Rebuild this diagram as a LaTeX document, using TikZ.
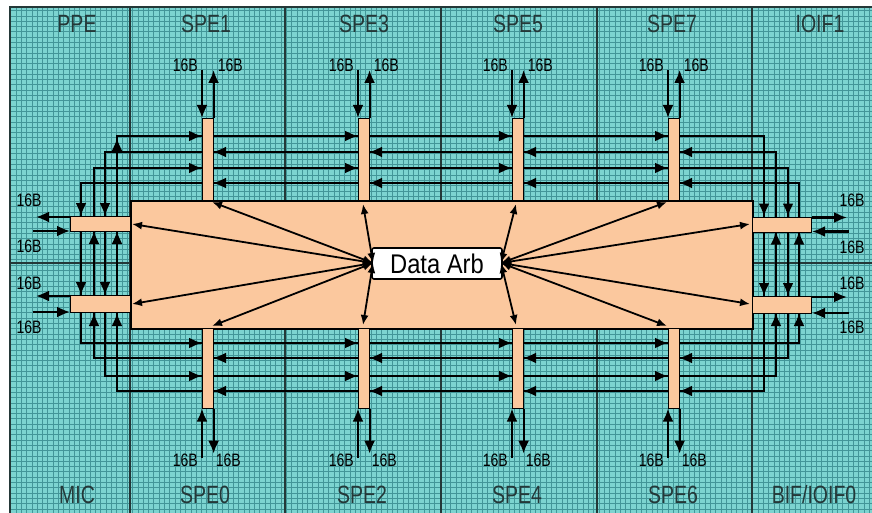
\documentclass[tikz,border=0pt]{standalone}
\usepackage{fontspec}
\usetikzlibrary{arrows.meta}
\newfontfamily\nar[FakeStretch=0.78]{Liberation Sans}
\newfontfamily\narb[FakeStretch=0.88]{Liberation Sans}
\definecolor{bgc}{RGB}{124,212,208}
\definecolor{gridc}{RGB}{66,150,152}
\definecolor{peach}{RGB}{251,200,158}
\definecolor{divc}{RGB}{36,56,56}
\begin{document}
\begin{tikzpicture}[x=1pt,y=-1pt,
  bus/.style={line width=2.2pt, black},
  tip/.style={-{Latex[length=13pt,width=11pt]}, line width=2.2pt},
  rad/.style={{Latex[length=10pt,width=8pt]}-{Latex[length=10pt,width=8pt]}, line width=1.8pt},
  colname/.style={font=\nar\fontsize{25}{25}\selectfont, text=divc, inner sep=0pt, anchor=base},
  bw/.style={font=\nar\fontsize{18}{18}\selectfont, inner sep=0pt},
  bar/.style={fill=peach, draw=black, line width=0.6pt, minimum width=11pt, inner sep=0pt, anchor=north west},
  port/.style={fill=peach, draw=black, line width=1pt, inner sep=0pt, anchor=north west},
  divl/.style={divc, line width=1.2pt},
]
\useasboundingbox (0,0) rectangle (872,513);
% background and grid
\fill[white] (0,0) rectangle (872,513);
\fill[bgc] (10,7) rectangle (872,513);
\draw[gridc, line width=0.6pt, step=5.3pt] (10,7) grid (872,513);
\draw[divl] (10,513) -- (10,7) -- (872,7);
\foreach \x in {130,285,441,597,752} \draw[divl] (\x,7) -- (\x,513);
\draw[divl] (10,263) -- (130,263);
\draw[divl] (752,263) -- (872,263);
% column names
\node[colname] (tPPE) at (77,33) {PPE};
\node[colname] (tS1) at (206,33) {SPE1};
\node[colname] (tS3) at (364,33) {SPE3};
\node[colname] (tS5) at (518,33) {SPE5};
\node[colname] (tS7) at (672,33) {SPE7};
\node[colname] (tIO1) at (820,33) {IOIF1};
\node[colname] (bMIC) at (77,503) {MIC};
\node[colname] (bS0) at (205,503) {SPE0};
\node[colname] (bS2) at (362,503) {SPE2};
\node[colname] (bS4) at (517,503) {SPE4};
\node[colname] (bS6) at (673,503) {SPE6};
\node[colname] (bIO0) at (814,503) {BIF/IOIF0};
% rings
\draw[bus] (117,136) rectangle (764,391);
\draw[bus] (105,152) rectangle (776,376);
\draw[bus] (94,168) rectangle (788,358);
\draw[bus] (81,183) rectangle (799,343);
% main element bus area
\node[fill=peach, draw=black, line width=1.6pt, minimum width=622pt, minimum height=128pt, inner sep=0pt, anchor=north west] (eib) at (130,200) {};
% ports
\node[port, minimum width=60pt, minimum height=15pt] (lu) at (70,216) {};
\node[port, minimum width=60pt, minimum height=17pt] (ll) at (70,295) {};
\node[port, minimum width=59pt, minimum height=15pt] (ru) at (752,216.5) {};
\node[port, minimum width=59pt, minimum height=17pt] (rl) at (752,296) {};
% SPE bars
\node[bar, minimum height=82pt] (s1) at (202,118) {};
\node[bar, minimum height=82pt] (s3) at (358,118) {};
\node[bar, minimum height=82pt] (s5) at (512,118) {};
\node[bar, minimum height=82pt] (s7) at (668,118) {};
\node[bar, minimum height=80pt] (s0) at (202,328) {};
\node[bar, minimum height=80pt] (s2) at (358,328) {};
\node[bar, minimum height=80pt] (s4) at (512,328) {};
\node[bar, minimum height=80pt] (s6) at (668,328) {};
% ring arrows at the bars
\foreach \xl in {202,358,512,668} {
  \pgfmathsetmacro\xr{\xl+11}
  \draw[tip] (\xl-18,136) -- (\xl,136);
  \draw[tip] (\xr+18,152) -- (\xr,152);
  \draw[tip] (\xl-18,168) -- (\xl,168);
  \draw[tip] (\xr+18,183) -- (\xr,183);
  \draw[tip] (\xl-18,343) -- (\xl,343);
  \draw[tip] (\xr+18,358) -- (\xr,358);
  \draw[tip] (\xl-18,376) -- (\xl,376);
  \draw[tip] (\xr+18,391) -- (\xr,391);
}
% SPE external 16B arrows
\foreach \n in {s1,s3,s5,s7} {
  \draw[tip] ([yshift=48pt]\n.north west) -- (\n.north west);
  \draw[tip] (\n.north east) -- ++(0,-48);
  \node[bw, anchor=base east] at ([xshift=-4pt,yshift=46pt]\n.north west) {16B};
  \node[bw, anchor=base west] at ([xshift=4pt,yshift=46pt]\n.north east) {16B};
}
\foreach \n in {s0,s2,s4,s6} {
  \draw[tip] ([yshift=-49pt]\n.south west) -- (\n.south west);
  \draw[tip] (\n.south east) -- ++(0,45);
  \node[bw, anchor=base east] at ([xshift=-4pt,yshift=-58pt]\n.south west) {16B};
  \node[bw, anchor=base west] at ([xshift=2pt,yshift=-58pt]\n.south east) {16B};
}
% side ring arrows, left
\draw[tip] (117,162) -- (117,138);
\foreach \x in {117,94} {
  \draw[tip] (\x,254) -- (\x,231);
  \draw[tip] (\x,336) -- (\x,313);
}
\foreach \x in {105,81} {
  \draw[tip] (\x,193) -- (\x,216);
  \draw[tip] (\x,272) -- (\x,295);
}
% side ring arrows, right
\foreach \x in {764,788} {
  \draw[tip] (\x,194) -- (\x,216.5);
  \draw[tip] (\x,273) -- (\x,296);
}
\foreach \x in {776,799} {
  \draw[tip] (\x,254) -- (\x,231.5);
  \draw[tip] (\x,336) -- (\x,313);
}
% port external arrows
\draw[tip] ([yshift=-1pt]lu.north west) -- ++(-34,0);
\draw[tip] ([xshift=-37pt,yshift=1pt]lu.south west) -- ([yshift=1pt]lu.south west);
\draw[tip] ([yshift=-1pt]ll.north west) -- ++(-34,0);
\draw[tip] ([xshift=-37pt,yshift=1pt]ll.south west) -- ([yshift=1pt]ll.south west);
\draw[tip] ([yshift=-1pt]ru.north east) -- ++(35,0);
\draw[tip] ([xshift=37pt,yshift=1pt]ru.south east) -- ([yshift=1pt]ru.south east);
\draw[tip] ([yshift=-1pt]rl.north east) -- ++(35,0);
\draw[tip] ([xshift=37pt,yshift=1pt]rl.south east) -- ([yshift=1pt]rl.south east);
\node[bw, anchor=base] at (29,207) {16B};
\node[bw, anchor=base] at (29,252) {16B};
\node[bw, anchor=base] at (29,289) {16B};
\node[bw, anchor=base] at (29,333) {16B};
\node[bw, anchor=base] at (852,207) {16B};
\node[bw, anchor=base] at (852,253) {16B};
\node[bw, anchor=base] at (852,289) {16B};
\node[bw, anchor=base] at (852,333) {16B};
% data arbiter
\node[fill=white, draw=black, line width=1.6pt, rounded corners=2pt, minimum width=130pt, minimum height=31pt, inner sep=0pt, font=\narb\fontsize{27}{27}\selectfont] (arb) at (437,263.5) {Data Arb};
\coordinate (L) at (373,263);
\coordinate (R) at (501,263);
\coordinate (eL1) at (212,202);
\coordinate (eL3) at (363,204);
\coordinate (eLu) at (132,224);
\coordinate (eLl) at (132,304);
\coordinate (eL0) at (212,326);
\coordinate (eL2) at (363,325);
\coordinate (eR5) at (516,204);
\coordinate (eR7) at (667,202);
\coordinate (eRu) at (750,224);
\coordinate (eRl) at (750,304);
\coordinate (eR4) at (516,325);
\coordinate (eR6) at (667,326);
\foreach \e in {eL1,eL3,eLu,eLl,eL0,eL2} \draw[rad] (L) -- (\e);
\foreach \e in {eR5,eR7,eRu,eRl,eR4,eR6} \draw[rad] (R) -- (\e);
\end{tikzpicture}
\end{document}
